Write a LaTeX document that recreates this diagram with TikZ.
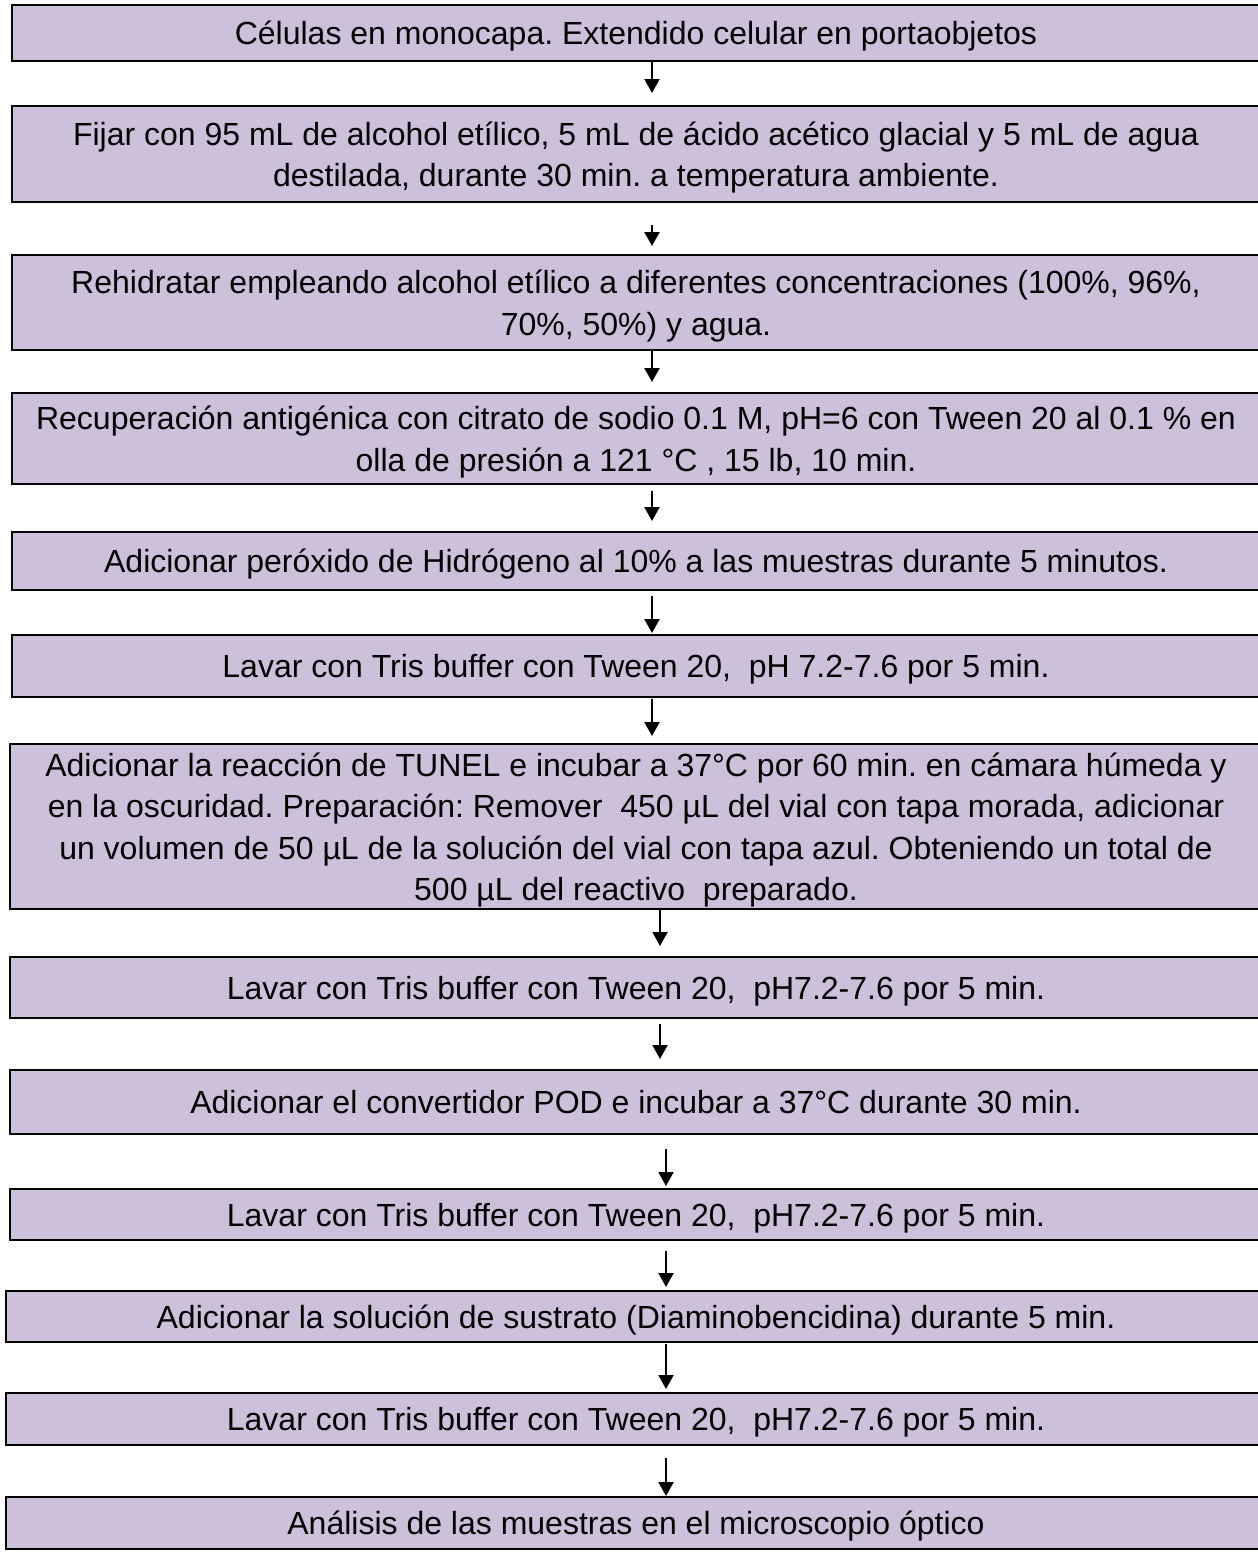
\documentclass[tikz,border=0pt]{standalone}
\usepackage{fontspec}
\setmainfont{Liberation Sans}
\usepackage{xcolor}
\usepackage{tikz}
\usetikzlibrary{arrows.meta}

\definecolor{lila}{RGB}{204,192,218}
\frenchspacing

\begin{document}
\begin{tikzpicture}[x=1pt,y=-1pt,
	caja/.style={draw=black,line width=2pt,fill=lila,inner sep=0pt,align=center,
		text depth=0pt,font=\fontsize{32}{41.5}\selectfont}]
		\clip (0,0) rectangle (1258,1553);
		\fill[white] (0,0) rectangle (1258,1553);
		%
		\node[caja,minimum width=1248,minimum height=56] (A) at (636,33) {Células en monocapa. Extendido celular en portaobjetos};
		\node[caja,minimum width=1248,minimum height=96] (B) at (636,154) {Fijar con 95 mL de alcohol etílico, 5 mL de ácido acético glacial y 5 mL de agua\\destilada, durante 30 min. a temperatura ambiente.};
		\node[caja,minimum width=1248,minimum height=95] (C) at (636,302.5) {Rehidratar empleando alcohol etílico a diferentes concentraciones (100\%, 96\%,\\70\%, 50\%) y agua.};
		\node[caja,minimum width=1248,minimum height=91] (D) at (636,438.5) {Recuperación antigénica con citrato de sodio 0.1 M, pH=6 con Tween 20 al 0.1 \% en\\olla de presión a 121 °C , 15 lb, 10 min.};
		\node[caja,minimum width=1248,minimum height=58] (E) at (636,561) {Adicionar peróxido de Hidrógeno al 10\% a las muestras durante 5 minutos.};
		\node[caja,minimum width=1248,minimum height=62] (F) at (636,666) {Lavar con Tris buffer con Tween 20,\ \ pH 7.2-7.6 por 5 min.};
		\node[caja,minimum width=1252,minimum height=165] (G) at (636,826.5) {Adicionar la reacción de TUNEL e incubar a 37°C por 60 min. en cámara húmeda y\\en la oscuridad. Preparación: Remover\ \ 450 µL del vial con tapa morada, adicionar\\un volumen de 50 µL de la solución del vial con tapa azul. Obteniendo un total de\\500 µL del reactivo\ \ preparado.};
		\node[caja,minimum width=1252,minimum height=61] (H) at (636,987.5) {Lavar con Tris buffer con Tween 20,\ \ pH7.2-7.6 por 5 min.};
		\node[caja,minimum width=1252,minimum height=64] (I) at (636,1102) {Adicionar el convertidor POD e incubar a 37°C durante 30 min.};
		\node[caja,minimum width=1252,minimum height=51] (J) at (636,1214.5) {Lavar con Tris buffer con Tween 20,\ \ pH7.2-7.6 por 5 min.};
		\node[caja,minimum width=1260,minimum height=51] (K) at (636,1316.5) {Adicionar la solución de sustrato (Diaminobencidina) durante 5 min.};
		\node[caja,minimum width=1260,minimum height=52] (L) at (636,1419) {Lavar con Tris buffer con Tween 20,\ \ pH7.2-7.6 por 5 min.};
		\node[caja,minimum width=1260,minimum height=52] (M) at (636,1523) {Análisis de las muestras en el microscopio óptico};
		%
		\path[->,line width=2pt,>={Triangle[length=14pt,width=15pt]}]
		% upper arrows
		([xshift=16]A.south) edge[shorten >=12] ([xshift=16]B.north)
		([xshift=16]B.south) edge[shorten <=22,shorten >=8] ([xshift=16]C.north)
		([xshift=16]C.south) edge[shorten >=10] ([xshift=16]D.north)
		([xshift=16]D.south) edge[shorten <=6,shorten >=10] ([xshift=16]E.north)
		([xshift=16]E.south) edge[shorten <=5,shorten >=1] ([xshift=16]F.north)
		([xshift=16]F.south) edge[shorten <=1,shorten >=7] ([xshift=16]G.north)
		% middle arrows
		([xshift=24]G.south) edge[shorten >=10] ([xshift=24]H.north)
		([xshift=24]H.south) edge[shorten <=5,shorten >=10] ([xshift=24]I.north)
		% lower arrows
		([xshift=30]I.south) edge[shorten <=14,shorten >=2] ([xshift=30]J.north)
		([xshift=30]J.south) edge[shorten <=10,shorten >=3] ([xshift=30]K.north)
		([xshift=30]K.south) edge[shorten <=1,shorten >=3] ([xshift=30]L.north)
		([xshift=30]L.south) edge[shorten <=12] ([xshift=30]M.north);
	\end{tikzpicture}
\end{document}
